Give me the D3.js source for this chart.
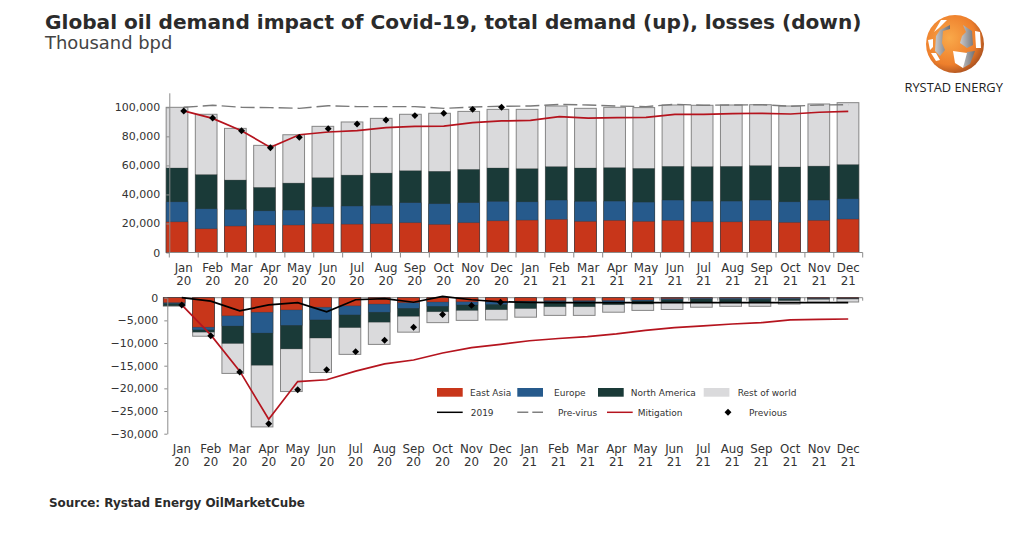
<!DOCTYPE html>
<html>
<head>
<meta charset="utf-8">
<script src="https://cdn.jsdelivr.net/npm/d3@7"></script>
<style>
  body { margin: 0; background: #fff; }
  text { font-family: "DejaVu Sans", sans-serif; fill: #2b2b2b; }
  .axis path, .axis line { stroke: #8c8c8c; }
  .axis text { font-size: 11px; fill: #333; font-family: "DejaVu Sans", sans-serif; }
  .month { font-size: 11.8px; fill: #333; text-anchor: middle; }
  .legend { font-size: 9px; fill: #333; }
</style>
</head>
<body>
<div id="chart"></div>
<script>
// category labels
var months = ["Jan", "Feb", "Mar", "Apr", "May", "Jun", "Jul", "Aug", "Sep", "Oct", "Nov", "Dec",
  "Jan", "Feb", "Mar", "Apr", "May", "Jun", "Jul", "Aug", "Sep", "Oct", "Nov", "Dec"];
var years = ["20", "20", "20", "20", "20", "20", "20", "20", "20", "20", "20", "20",
  "21", "21", "21", "21", "21", "21", "21", "21", "21", "21", "21", "21"];
var regions = ["East Asia", "Europe", "North America", "Rest of world"];
var regionColors = ["#c8361a", "#265a8c", "#1a3a38", "#dadadc"];

var demandEastAsia = [21100, 16300, 18200, 18900, 18900, 19800, 19500, 19800, 20500, 19300, 20500, 21800,
  22300, 22800, 21400, 22100, 21400, 22100, 21100, 21100, 22100, 20700, 22100, 23000];
var demandEurope = [34900, 30100, 29700, 28700, 29200, 31500, 32000, 32400, 34300, 33600, 34300, 35200,
  34900, 36100, 35200, 35400, 34700, 36100, 35400, 35400, 36100, 34900, 36100, 37000];
var demandNorthAmerica = [58200, 53600, 49900, 44800, 47800, 51500, 53300, 54700, 56300, 55900, 57200, 58200,
  57700, 59100, 58200, 58400, 57900, 59300, 59100, 59300, 59800, 58900, 59500, 60500];
var demandRest = [100000, 95200, 85500, 73800, 81100, 86900, 89900, 92400, 95200, 95900, 97200, 98600,
  98600, 100900, 99300, 100000, 99800, 101600, 101400, 101600, 101800, 100900, 102300, 103200];
var demandPreVirus = [100000, 101400, 100000, 99800, 99300, 101100, 100500, 100500, 100500, 99300, 100200, 100700,
  100900, 102000, 101600, 100900, 100500, 102100, 101400, 101600, 101800, 100700, 101600, 101800];
var demandMitigation = [97500, 92400, 83900, 72400, 81100, 83000, 83900, 86000, 86900, 87100, 89400, 90600,
  91000, 93600, 92600, 92900, 93100, 95200, 95200, 95600, 95900, 95400, 96600, 97200];
var demandPrevious = [97500, 92600, 83900, 72200, 79300, 85300, 88500, 91300, 94300, 95900, 98600, 100000];

// losses, same idea going down
var lossEastAsia = [-1100, -6500, -4000, -3200, -2700, -2100, -1800, -1400, -1100, -950, -900, -900,
  -750, -650, -650, -600, -500, -200, -100, -100, -100, -100, -100, -100];
var lossEurope = [-1300, -7100, -6250, -7800, -6100, -4900, -3800, -3200, -2350, -1900, -1600, -1500,
  -900, -900, -900, -1000, -700, -450, -300, -350, -350, -300, -200, -150];
var lossNorthAmerica = [-1800, -7600, -10100, -14900, -11300, -8900, -6600, -5400, -4100, -3100, -2800, -2650,
  -2400, -2000, -2000, -1550, -1400, -1100, -1100, -1000, -1000, -650, -350, -300];
var lossRest = [-1850, -8500, -16700, -28500, -20700, -16500, -12500, -10300, -7600, -5500, -5000, -4900,
  -4300, -3900, -3900, -3200, -2800, -2600, -2100, -1900, -1900, -1400, -1000, -950];
var loss2019 = [0, -750, -2900, -1600, -1100, -3100, -450, -200, -1000, 300, -450, -900,
  -1050, -1100, -1100, -1100, -1100, -1100, -1100, -1100, -1100, -1100, -1100, -1100];
var lossMitigation = [-1600, -8200, -16200, -26800, -18500, -18100, -16200, -14600, -13750, -12200, -11000, -10300,
  -9500, -9000, -8600, -8000, -7200, -6600, -6200, -5800, -5500, -4900, -4800, -4700];
var lossPrevious = [-1600, -8400, -16400, -27800, -20300, -15900, -11900, -9400, -6500, -3700, -1700, -1000];

var demandTicks = [0, 20000, 40000, 60000, 80000, 100000];
var lossTicks = [0, -5000, -10000, -15000, -20000, -25000, -30000];

var svgWidth = 1024;
var svgHeight = 540;
var barWidth = 21.7;

var svg = d3.select("#chart")
  .append("svg")
  .attr("width", svgWidth)
  .attr("height", svgHeight)
  .style("display", "block");

var idx = d3.range(months.length);

// title block
svg.append("text").attr("x", 45).attr("y", 29)
  .style("font-size", "20.1px").style("font-weight", "bold")
  .text("Global oil demand impact of Covid-19, total demand (up), losses (down)");
svg.append("text").attr("x", 45).attr("y", 49)
  .style("font-size", "17.9px").style("fill", "#444")
  .text("Thousand bpd");
svg.append("text").attr("x", 49).attr("y", 507)
  .style("font-size", "11.95px").style("font-weight", "bold")
  .text("Source: Rystad Energy OilMarketCube");

// draws the month labels and the tick marks of one panel
function drawMonths(x, lineY, tickDir, labelY) {
  var g = svg.append("g").attr("class", "axis");
  g.append("line")
    .attr("x1", x.range()[0]).attr("x2", x.range()[1])
    .attr("y1", lineY).attr("y2", lineY)
    .style("stroke", tickDir > 0 ? "#8c8c8c" : "#c8c8c8");
  g.selectAll(".tickmark")
    .data(idx.concat([months.length]))
    .enter()
    .append("line")
    .attr("x1", d => x.range()[0] + d * x.step())
    .attr("x2", d => x.range()[0] + d * x.step())
    .attr("y1", lineY)
    .attr("y2", lineY + tickDir)
    .style("stroke", tickDir > 0 ? "#8c8c8c" : "#c8c8c8");
  var labels = svg.append("g").selectAll("text")
    .data(idx)
    .enter()
    .append("text")
    .attr("class", "month")
    .attr("x", d => x(d) + x.bandwidth() / 2)
    .attr("y", labelY);
  labels.append("tspan").text(d => months[d]);
  labels.append("tspan")
    .attr("x", d => x(d) + x.bandwidth() / 2)
    .attr("dy", 13.5)
    .text(d => years[d]);
}

// one panel of stacked bars, the series hold cumulative edges
function drawBars(barX, y, series) {
  for (var s = series.length - 1; s >= 0; s--) {
    svg.append("g").selectAll("rect")
      .data(idx)
      .enter()
      .append("rect")
      .attr("x", d => barX(d) - barWidth / 2)
      .attr("width", barWidth)
      .attr("y", d => Math.min(y(0), y(series[s][d])))
      .attr("height", d => Math.abs(y(0) - y(series[s][d])))
      .attr("fill", regionColors[s])
      .attr("stroke", s == 3 ? "#858585" : "rgba(50,50,50,0.45)")
      .attr("stroke-width", s == 3 ? 1 : 0.6);
  }
}

function drawLine(x, y, values, color, width, dash) {
  var line = d3.line()
    .x((d, i) => x(i) + x.bandwidth() / 2)
    .y(d => y(d));
  svg.append("path")
    .attr("d", line(values))
    .attr("fill", "none")
    .attr("stroke", color)
    .attr("stroke-width", width)
    .attr("stroke-dasharray", dash);
}

function drawDiamonds(x, y, values) {
  var marker = d3.symbol().type(d3.symbolSquare).size(24);
  svg.append("g").selectAll("path")
    .data(values)
    .enter()
    .append("path")
    .attr("d", marker)
    .attr("fill", "#000")
    .attr("transform", (d, i) => `translate(${x(i) + x.bandwidth() / 2}, ${y(d)}) rotate(45)`);
}

// top panel
var topX = d3.scaleBand().domain(idx).range([169.3, 862.7]);
var topBarX = d3.scalePoint().domain(idx).range([177, 848]);
var topY = d3.scaleLinear().domain([0, 110000]).range([252.5, 92.8]);

drawBars(topBarX, topY, [demandEastAsia, demandEurope, demandNorthAmerica, demandRest]);
drawMonths(topX, 252.5, 5, 271.8);
svg.append("g")
  .attr("class", "axis")
  .attr("transform", "translate(169.3, 0)")
  .call(d3.axisLeft(topY).tickValues(demandTicks).tickFormat(d3.format(",")).tickSize(3).tickPadding(6).tickSizeOuter(0));
drawLine(topX, topY, demandPreVirus, "#7a7a7a", 1.4, "14,5");
drawLine(topX, topY, demandMitigation, "#b5141e", 1.7);
drawDiamonds(topX, topY, demandPrevious);

// bottom panel
var botX = d3.scaleBand().domain(idx).range([167.3, 862.7]);
var botBarX = d3.scalePoint().domain(idx).range([174.2, 847.8]);
var botY = d3.scaleLinear().domain([-30000, 0]).range([433.7, 297.7]);

drawMonths(botX, 297.7, 3, 452.7);
drawBars(botBarX, botY, [lossEastAsia, lossEurope, lossNorthAmerica, lossRest]);
svg.append("g")
  .attr("class", "axis")
  .attr("transform", "translate(167.3, 0)")
  .call(d3.axisLeft(botY).tickValues(lossTicks).tickFormat(d3.format(",")).tickSize(3).tickPadding(6).tickSizeOuter(0));
drawLine(botX, botY, loss2019, "#000", 1.7);
drawLine(botX, botY, lossMitigation, "#b5141e", 1.7);
drawDiamonds(botX, botY, lossPrevious);

// legend
var swatchX = d3.scaleOrdinal().domain(regions).range([437, 517.3, 598, 703.7]);
var swatchLabelX = d3.scaleOrdinal().domain(regions).range([470, 554, 630.7, 737.7]);
regions.forEach(function(r, i) {
  svg.append("rect").attr("x", swatchX(r)).attr("y", 388).attr("width", 25.7).attr("height", 8.7)
    .attr("fill", regionColors[i]);
  svg.append("text").attr("class", "legend").attr("x", swatchLabelX(r)).attr("y", 395.5).text(r);
});
function legendLine(x1, color, dash, label, labelX) {
  svg.append("line").attr("x1", x1).attr("x2", x1 + 25.7).attr("y1", 412.3).attr("y2", 412.3)
    .attr("stroke", color).attr("stroke-width", 1.5).attr("stroke-dasharray", dash);
  svg.append("text").attr("class", "legend").attr("x", labelX).attr("y", 415.5).text(label);
}
legendLine(437, "#000", null, "2019", 470.7);
legendLine(517.3, "#808080", "11,4", "Pre-virus", 558);
legendLine(607, "#b5141e", null, "Mitigation", 637.7);
svg.append("path")
  .attr("d", d3.symbol().type(d3.symbolSquare).size(24))
  .attr("fill", "#000")
  .attr("transform", "translate(728, 412.3) rotate(45)");
svg.append("text").attr("class", "legend").attr("x", 749).attr("y", 415.5).text("Previous");

// logo
var defs = svg.append("defs");
var orange = defs.append("radialGradient").attr("id", "orange")
  .attr("cx", "40%").attr("cy", "40%").attr("r", "65%");
orange.append("stop").attr("offset", "0%").attr("stop-color", "#f9a94a");
orange.append("stop").attr("offset", "70%").attr("stop-color", "#ee7f2c");
orange.append("stop").attr("offset", "100%").attr("stop-color", "#a9501f");
var grey = defs.append("linearGradient").attr("id", "steel");
grey.append("stop").attr("offset", "0%").attr("stop-color", "#c9c9cb");
grey.append("stop").attr("offset", "100%").attr("stop-color", "#6f7074");

var logo = svg.append("g").attr("transform", "translate(955, 44)");
logo.append("circle").attr("r", 29).attr("fill", "url(#orange)");
logo.append("path").attr("fill", "url(#steel)")
  .attr("d", "M-15,-14 L-5,-19 L-5,-15 L-12,-13 L-13,-1 L-10,6 L-15,12 L-20,7 L-19,-8 Z");
logo.append("path").attr("fill", "url(#steel)")
  .attr("d", "M8,-19 L17,-13 L18,1 L12,4 L5,-1 L7,-8 L11,-12 Z M12,8 L20,7 L15,20 L8,24 L10,12 Z");
logo.append("path").attr("fill", "#fff")
  .attr("d", "M-2,7 L12,9 L8,24 L0,19 L-1,13 Z M-27,-4 L-22,-5 L-22,3 L-25,6 Z M-24,9 L-19,9 L-15,16 L-19,17 Z M-14,-24 L-8,-24 L-16,-16 L-21,-12 Z M20,-13 L25,-12 L26,4 L21,4 Z");
svg.append("text").attr("x", 953.7).attr("y", 92)
  .attr("text-anchor", "middle")
  .style("font-family", "'Open Sans', sans-serif")
  .style("font-size", "12.85px")
  .style("fill", "#222")
  .text("RYSTAD ENERGY");
</script>
</body>
</html>
